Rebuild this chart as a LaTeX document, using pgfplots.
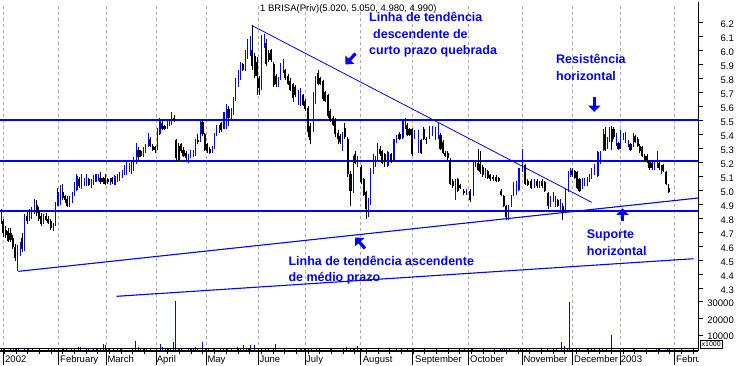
\documentclass[border=0pt]{standalone}
\usepackage{fontspec}
\setmainfont{Liberation Sans}
\usepackage{pgfplots}
\usepackage{pgfplotstable}
\pgfplotsset{compat=1.18}
\usetikzlibrary{arrows.meta}
\definecolor{mblue}{RGB}{0,0,255}
\definecolor{gridgray}{RGB}{170,170,170}

\pgfplotstableread{
x o h l c
1.0 4.78 4.87 4.76 4.86
3.4 4.78 4.80 4.67 4.70
5.7 4.72 4.75 4.66 4.68
8.1 4.71 4.73 4.63 4.64
10.5 4.70 4.73 4.63 4.65
12.9 4.66 4.68 4.58 4.60
15.2 4.60 4.62 4.50 4.52
17.6 4.50 4.61 4.43 4.58
20.0 4.55 4.63 4.53 4.62
22.3 4.66 4.70 4.56 4.58
24.7 4.58 4.83 4.57 4.80
27.1 4.82 4.85 4.76 4.78
29.4 4.79 4.87 4.78 4.86
31.8 4.82 4.88 4.80 4.87
34.2 4.84 4.94 4.83 4.89
36.6 4.90 4.93 4.82 4.84
38.9 4.86 4.88 4.78 4.80
41.3 4.82 4.84 4.75 4.76
43.7 4.78 4.83 4.76 4.82
46.0 4.82 4.84 4.78 4.79
48.4 4.80 4.82 4.76 4.77
50.8 4.78 4.80 4.72 4.73
53.1 4.72 4.77 4.71 4.75
55.5 4.76 4.92 4.75 4.90
57.9 4.90 5.02 4.89 4.98
60.3 4.92 5.04 4.90 5.00
62.6 4.99 5.05 4.93 4.95
65.0 4.96 4.97 4.91 4.93
67.4 4.94 4.96 4.88 4.89
69.7 4.90 4.96 4.88 4.95
72.1 4.92 4.99 4.91 4.98
74.5 4.97 5.06 4.96 5.05
76.8 5.01 5.12 5.00 5.10
79.2 5.08 5.10 5.02 5.03
81.6 5.02 5.12 5.01 5.07
84.0 5.04 5.09 5.03 5.08
86.3 5.04 5.12 5.03 5.10
88.7 5.08 5.09 5.03 5.04
91.1 5.03 5.08 5.02 5.07
93.4 5.05 5.11 5.04 5.10
95.8 5.07 5.12 5.06 5.11
98.2 5.08 5.12 5.07 5.11
100.5 5.09 5.13 5.05 5.06
102.9 5.09 5.10 5.05 5.06
105.3 5.09 5.12 5.04 5.05
107.7 5.08 5.09 5.05 5.06
110.0 5.05 5.09 5.04 5.08
112.4 5.09 5.10 5.05 5.06
114.8 5.05 5.11 5.04 5.10
117.1 5.07 5.12 5.06 5.11
119.5 5.08 5.13 5.07 5.12
121.9 5.10 5.15 5.09 5.14
124.2 5.12 5.18 5.11 5.16
126.6 5.12 5.22 5.11 5.20
129.0 5.14 5.20 5.13 5.19
131.4 5.14 5.21 5.12 5.20
133.7 5.15 5.24 5.14 5.22
136.1 5.20 5.34 5.19 5.27
138.5 5.29 5.31 5.22 5.24
140.8 5.28 5.29 5.24 5.25
143.2 5.25 5.31 5.24 5.30
145.6 5.28 5.33 5.27 5.32
147.9 5.32 5.41 5.31 5.40
150.3 5.37 5.38 5.31 5.32
152.7 5.32 5.33 5.28 5.29
155.1 5.31 5.32 5.27 5.29
157.4 5.30 5.45 5.29 5.42
159.8 5.41 5.52 5.40 5.50
162.2 5.48 5.50 5.43 5.44
164.5 5.46 5.47 5.43 5.44
166.9 5.45 5.50 5.44 5.49
169.3 5.47 5.51 5.46 5.50
171.6 5.49 5.56 5.47 5.53
174.0 5.52 5.54 5.49 5.50
176.4 5.36 5.37 5.21 5.23
178.8 5.32 5.34 5.21 5.22
181.1 5.33 5.34 5.27 5.28
183.5 5.29 5.31 5.24 5.25
185.9 5.27 5.28 5.22 5.23
188.2 5.21 5.26 5.20 5.25
190.6 5.24 5.29 5.23 5.28
193.0 5.25 5.29 5.24 5.28
195.3 5.26 5.37 5.25 5.34
197.7 5.36 5.40 5.33 5.35
200.1 5.36 5.50 5.35 5.49
202.5 5.49 5.51 5.39 5.40
204.8 5.40 5.41 5.28 5.29
207.2 5.33 5.34 5.27 5.28
209.6 5.30 5.31 5.26 5.27
211.9 5.28 5.32 5.27 5.31
214.3 5.31 5.41 5.30 5.40
216.7 5.40 5.47 5.39 5.46
219.0 5.42 5.47 5.41 5.46
221.4 5.48 5.49 5.42 5.43
223.8 5.45 5.56 5.44 5.55
226.2 5.48 5.62 5.44 5.60
228.5 5.58 5.60 5.46 5.52
230.9 5.52 5.59 5.50 5.58
233.3 5.55 5.67 5.54 5.66
235.6 5.65 5.80 5.64 5.78
238.0 5.75 5.86 5.74 5.85
240.4 5.80 5.92 5.79 5.90
242.7 5.90 5.91 5.85 5.86
245.1 5.86 6.00 5.85 5.98
247.5 5.95 6.08 5.94 6.06
249.9 5.98 6.10 5.96 6.08
252.2 6.00 6.18 5.86 5.89
254.6 5.96 5.98 5.80 5.82
257.0 5.92 5.95 5.68 5.82
259.3 5.80 5.82 5.68 5.73
261.7 5.75 6.11 5.72 6.06
264.1 6.04 6.12 6.02 6.10
266.4 6.05 6.08 5.89 5.90
268.8 5.98 6.00 5.92 5.93
271.2 6.00 6.01 5.92 5.93
273.6 5.90 5.92 5.74 5.75
275.9 5.82 5.83 5.74 5.76
278.3 5.75 5.81 5.74 5.80
280.7 5.80 5.91 5.79 5.89
283.0 5.85 5.94 5.84 5.90
285.4 5.86 5.87 5.79 5.80
287.9 5.82 5.83 5.75 5.76
290.4 5.78 5.80 5.71 5.72
292.9 5.76 5.77 5.63 5.66
295.4 5.74 5.75 5.67 5.68
297.9 5.62 5.72 5.61 5.71
300.4 5.63 5.73 5.60 5.70
302.9 5.68 5.69 5.60 5.61
305.4 5.64 5.65 5.57 5.58
307.9 5.59 5.60 5.38 5.42
310.4 5.46 5.48 5.33 5.36
312.9 5.45 5.70 5.42 5.68
315.4 5.65 5.82 5.62 5.80
317.9 5.84 5.86 5.75 5.76
320.4 5.80 5.81 5.75 5.76
322.9 5.78 5.79 5.64 5.65
325.4 5.70 5.71 5.63 5.64
327.9 5.68 5.69 5.52 5.53
330.4 5.57 5.58 5.49 5.50
332.9 5.52 5.53 5.46 5.47
335.4 5.50 5.52 5.38 5.40
337.9 5.41 5.43 5.33 5.37
340.0 5.39 5.40 5.33 5.35
342.3 5.31 5.42 5.28 5.40
344.8 5.45 5.48 5.37 5.38
347.8 5.37 5.38 5.10 5.12
350.5 5.12 5.14 4.89 5.00
353.0 5.00 5.25 4.98 5.22
355.3 5.26 5.28 5.19 5.20
357.5 5.19 5.25 5.17 5.24
361.3 5.17 5.18 5.05 5.06
363.7 5.08 5.09 4.96 4.97
366.0 4.99 5.00 4.80 4.87
368.3 4.88 4.95 4.81 4.94
370.7 4.92 5.16 4.90 5.14
373.0 5.13 5.26 5.12 5.24
375.3 5.18 5.25 5.17 5.24
377.6 5.23 5.34 5.22 5.32
380.0 5.30 5.32 5.25 5.26
382.3 5.28 5.29 5.19 5.20
384.6 5.26 5.27 5.17 5.21
387.8 5.18 5.28 5.17 5.27
391.0 5.26 5.27 5.20 5.21
393.8 5.22 5.37 5.21 5.36
396.2 5.35 5.40 5.34 5.39
399.5 5.40 5.42 5.36 5.37
402.8 5.38 5.51 5.37 5.49
405.0 5.45 5.52 5.44 5.50
407.3 5.47 5.48 5.39 5.40
409.5 5.44 5.45 5.39 5.40
412.0 5.44 5.45 5.25 5.26
414.6 5.38 5.43 5.37 5.42
418.0 5.28 5.43 5.27 5.42
421.0 5.36 5.37 5.26 5.27
423.8 5.44 5.45 5.36 5.37
426.2 5.37 5.38 5.33 5.36
429.5 5.38 5.46 5.37 5.45
432.5 5.40 5.46 5.39 5.45
435.3 5.37 5.45 5.36 5.44
438.0 5.38 5.48 5.37 5.46
440.5 5.40 5.41 5.29 5.30
442.9 5.35 5.36 5.26 5.27
445.3 5.27 5.28 5.24 5.25
447.7 5.27 5.28 5.22 5.23
450.3 5.22 5.23 5.04 5.05
452.8 5.07 5.08 5.02 5.03
455.2 5.00 5.08 4.93 5.07
457.7 5.08 5.09 4.99 5.00
460.1 5.04 5.05 5.01 5.02
463.6 5.00 5.01 4.97 4.98
466.6 4.98 5.01 4.97 5.00
470.3 5.00 5.01 4.92 4.93
473.0 4.97 5.22 4.96 5.20
475.3 5.18 5.22 5.17 5.21
478.0 5.20 5.30 5.14 5.15
480.3 5.19 5.28 5.12 5.13
482.8 5.17 5.18 5.10 5.11
485.5 5.10 5.16 5.09 5.15
487.8 5.14 5.15 5.08 5.09
490.3 5.11 5.12 5.07 5.08
493.3 5.10 5.11 5.07 5.08
496.0 5.10 5.11 5.06 5.07
498.8 5.09 5.10 5.06 5.07
501.2 5.00 5.01 4.96 4.97
503.6 4.96 4.97 4.88 4.89
506.2 4.89 4.90 4.79 4.81
508.6 4.81 4.90 4.79 4.89
511.2 4.89 4.97 4.88 4.96
513.6 4.97 5.06 4.96 5.05
516.3 4.98 5.07 4.97 5.06
518.8 5.01 5.16 5.00 5.15
522.2 5.14 5.30 5.13 5.20
525.0 5.18 5.19 5.04 5.05
527.8 5.07 5.08 5.03 5.04
531.2 5.07 5.08 5.01 5.02
534.5 5.03 5.08 5.02 5.07
537.0 5.07 5.08 5.02 5.03
539.7 5.03 5.07 5.02 5.06
542.3 5.07 5.08 5.02 5.03
544.6 5.06 5.07 4.99 5.00
548.0 4.98 4.99 4.87 4.89
550.5 4.89 4.96 4.88 4.95
553.0 4.93 4.99 4.92 4.98
555.5 4.89 4.96 4.88 4.95
557.8 4.93 4.94 4.88 4.89
560.3 4.87 4.94 4.86 4.93
562.8 4.89 4.91 4.79 4.85
565.5 4.85 5.01 4.84 5.00
568.0 5.00 5.14 4.99 5.13
570.2 5.11 5.16 5.10 5.15
572.4 5.15 5.16 5.10 5.11
574.6 5.14 5.15 5.08 5.09
577.0 5.13 5.14 5.01 5.02
579.5 5.08 5.09 4.99 5.00
582.0 5.02 5.09 5.01 5.08
584.6 5.04 5.09 5.03 5.08
587.1 5.04 5.10 5.03 5.09
589.5 5.07 5.12 5.06 5.11
591.7 5.09 5.16 5.08 5.15
593.9 5.12 5.19 5.11 5.18
597.8 5.11 5.28 5.10 5.27
600.0 5.20 5.28 5.19 5.27
603.0 5.29 5.44 5.28 5.39
605.3 5.40 5.45 5.28 5.29
607.5 5.31 5.38 5.30 5.37
609.6 5.36 5.45 5.35 5.43
611.6 5.44 5.46 5.29 5.35
613.6 5.44 5.45 5.37 5.38
616.2 5.33 5.41 5.32 5.40
618.5 5.34 5.35 5.29 5.30
620.6 5.31 5.43 5.30 5.40
623.0 5.37 5.41 5.36 5.40
625.5 5.35 5.42 5.34 5.41
628.0 5.32 5.36 5.31 5.35
630.5 5.33 5.34 5.28 5.29
632.9 5.32 5.41 5.31 5.40
635.3 5.39 5.40 5.34 5.35
637.6 5.37 5.38 5.31 5.32
639.8 5.32 5.33 5.27 5.28
642.0 5.31 5.32 5.24 5.25
644.6 5.25 5.26 5.21 5.22
647.2 5.25 5.26 5.20 5.21
649.5 5.21 5.22 5.15 5.16
652.0 5.20 5.21 5.15 5.16
654.5 5.16 5.22 5.15 5.21
657.0 5.17 5.28 5.16 5.21
659.0 5.20 5.21 5.15 5.16
661.2 5.13 5.18 5.12 5.17
663.3 5.18 5.19 5.13 5.14
666.0 5.13 5.14 5.04 5.05
668.7 5.02 5.05 4.98 4.99
}\candles

\pgfplotstableread{
x v
1.7 1960
10.7 1700
13.3 1900
15.7 1900
18.3 2000
25.0 2400
28.3 1400
32.7 2000
48.3 2000
55.0 2000
58.3 2400
63.3 1400
66.7 1400
71.7 2000
78.3 3000
80.0 3000
86.7 2000
88.3 2000
93.3 1400
96.7 1400
100.0 1400
103.3 4400
105.0 3800
108.3 1400
113.3 2000
117.3 2400
120.0 1400
123.3 1200
132.3 2400
135.0 6600
138.3 3000
140.7 1800
143.3 2000
146.7 1800
150.0 2000
156.7 2000
160.0 4800
162.3 3000
165.0 1400
168.3 1400
170.7 1400
173.3 6000
175.3 30600
178.3 1400
181.7 1400
188.3 1400
190.7 2000
193.3 2400
195.7 3000
197.7 2000
202.3 6000
205.0 2000
208.3 2000
213.3 1400
220.0 2400
223.3 1800
227.7 2000
231.7 2400
237.3 3000
240.0 1800
243.3 4200
246.0 2400
248.3 1800
250.7 3800
254.0 4200
261.7 1800
265.0 2400
268.3 1400
275.0 4800
300.0 1400
301.7 1400
304.0 1400
308.3 2400
311.7 1800
316.7 1400
330.0 1400
346.7 3000
350.0 2000
353.3 1400
357.3 3600
361.7 1400
396.0 1400
407.7 1400
464.3 1400
472.3 1400
500.0 1400
502.3 1800
504.3 2400
506.7 2400
509.0 1600
520.0 1400
522.7 1400
526.7 1400
547.3 1400
556.7 1400
561.3 6000
564.3 3600
567.3 2000
569.3 30000
572.3 1400
576.7 1400
579.3 1400
587.7 1400
591.7 2000
594.3 1400
599.3 1400
602.3 1400
606.0 2000
611.3 10000
633.3 1400
656.7 2000
659.0 1400
667.7 1400
}\vol

\begin{document}
\begin{tikzpicture}[x=1pt,y=1pt]

% ---------- price panel ----------
\begin{axis}[
  at={(0,10)}, anchor=south west, scale only axis,
  width=698pt, height=348pt,
  xmin=0, xmax=698, ymin=3.856, ymax=6.338,
  axis x line*=bottom, axis y line*=right,
  axis line style={-, black, line width=0.8pt},
  xtick=\empty,
  ytick={4.3,4.4,4.5,4.6,4.7,4.8,4.9,5.0,5.1,5.2,5.3,5.4,5.5,5.6,5.7,5.8,5.9,6.0,6.1,6.2},
  tick align=outside, major tick length=5pt,
  tick style={black, line width=0.8pt},
  yticklabel style={font=\fontsize{9.5}{10}\selectfont, anchor=east, inner sep=0pt,
     xshift=31pt, yshift=-1.5pt,
     /pgf/number format/.cd, fixed, fixed zerofill, precision=1, assume math mode=true},
]
% month grid lines
\pgfplotsinvokeforeach{3.3,58,106,156,206,258,305,360,412,468,522,572,620,674}{
  \addplot[gridgray, dash pattern=on 3pt off 3pt, line width=0.8pt, no markers, forget plot]
    coordinates {(#1,3.856) (#1,6.338)};
}
% horizontal support / resistance lines
\addplot[mblue, line width=1.8pt, no markers] coordinates {(0,5.5035) (698,5.5035)};
\addplot[mblue, line width=1.8pt, no markers] coordinates {(0,5.209) (698,5.209)};
\addplot[mblue, line width=1.8pt, no markers] coordinates {(0,4.8524) (698,4.8524)};
% trend lines
\addplot[mblue, line width=0.8pt, no markers] coordinates {(252.3,6.176) (591.7,4.916)};
\addplot[mblue, line width=1.1pt, no markers] coordinates {(18.3,4.424) (698,4.947)};
\addplot[mblue, line width=1.1pt, no markers] coordinates {(116.7,4.246) (693.3,4.514)};

% up candles: wicks
\addplot[draw=none, no markers, restrict expr to domain={\thisrow{c}-\thisrow{o}}{0:5},
  error bars/.cd, y dir=both, y explicit, error mark=none,
  error bar style={draw=mblue, line width=0.8pt}]
  table[x=x, y expr={(\thisrow{h}+\thisrow{l})/2}, y error expr={(\thisrow{h}-\thisrow{l})/2}] {\candles};
% down candles: wicks
\addplot[draw=none, no markers, restrict expr to domain={\thisrow{o}-\thisrow{c}}{0.0001:5},
  error bars/.cd, y dir=both, y explicit, error mark=none,
  error bar style={draw=black, line width=0.8pt}]
  table[x=x, y expr={(\thisrow{h}+\thisrow{l})/2}, y error expr={(\thisrow{h}-\thisrow{l})/2}] {\candles};
% up candles: hollow bodies
\addplot[draw=none, no markers, restrict expr to domain={\thisrow{c}-\thisrow{o}}{0:5},
  error bars/.cd, y dir=both, y explicit, error mark=-,
  error mark options={draw=mblue, mark size=1.05pt, line width=0.6pt},
  error bar style={draw=mblue, line width=0.6pt, double=white, double distance=0.9pt}]
  table[x=x, y expr={(\thisrow{o}+\thisrow{c})/2}, y error expr={(\thisrow{c}-\thisrow{o})/2}] {\candles};
% down candles: filled bodies
\addplot[draw=none, no markers, restrict expr to domain={\thisrow{o}-\thisrow{c}}{0.0001:5},
  error bars/.cd, y dir=both, y explicit, error mark=none,
  error bar style={draw=black, line width=2.1pt}]
  table[x=x, y expr={(\thisrow{o}+\thisrow{c})/2}, y error expr={(\thisrow{o}-\thisrow{c})/2}] {\candles};
\end{axis}

% ---------- volume panel ----------
\begin{axis}[
  at={(0,9)}, anchor=south west, scale only axis,
  width=698pt, height=348pt,
  xmin=0, xmax=698, ymin=1000, ymax=209800,
  axis x line*=bottom, axis y line*=right,
  axis line style={-, black, line width=0.8pt},
  xtick=\empty,
  ytick={10000,20000,30000},
  scaled y ticks=false,
  tick align=outside, major tick length=5pt,
  tick style={black, line width=0.8pt},
  yticklabel style={font=\fontsize{9.5}{10}\selectfont, anchor=east, inner sep=0pt,
     xshift=31pt, yshift=-1.5pt,
     /pgf/number format/.cd, fixed, 1000 sep={}, assume math mode=true},
]
\addplot[ycomb, mblue, line width=1pt, no markers] table[x=x, y=v] {\vol};
\end{axis}

% ---------- time axis ticks ----------
\foreach \x in {4.5,16.17,...,698} \draw[line width=0.8pt] (\x,17) -- (\x,11.3);
\foreach \x in {3.3,58,106,156,206,258,305,360,412,468,522,572,620,674} \draw[line width=0.8pt] (\x,17) -- (\x,0);
\draw[line width=0.8pt] (0,17) -- (698,17);

% ---------- texts ----------
\begin{scope}[every node/.style={inner sep=0pt, anchor=base west}]
\node[font=\fontsize{9.5}{10}\selectfont] at (260,353.3) {1 BRISA(Priv)(5.020, 5.050, 4.980, 4.990)};
\begin{scope}[font=\fontsize{12.5}{14}\selectfont\bfseries, text=mblue]
\node at (369,343.3) {Linha de tendência};
\node at (373,326.7) {descendente de};
\node at (369,310.2) {curto prazo quebrada};
\node at (556,301.7) {Resistência};
\node at (556,285.0) {horizontal};
\node at (586.7,126.7) {Suporte};
\node at (586.7,110.0) {horizontal};
\node at (288.3,99.8) {Linha de tendência ascendente};
\node at (288.3,83.5) {de médio prazo};
\end{scope}
\begin{scope}[font=\fontsize{9.5}{10}\selectfont]
\clip (0,0) rectangle (698,17);
\node at (5,2.5) {2002};
\node at (60,2.5) {February};
\node at (107.3,2.5) {March};
\node at (156.7,2.5) {April};
\node at (207.3,2.5) {May};
\node at (259.3,2.5) {June};
\node at (306,2.5) {July};
\node at (362.7,2.5) {August};
\node at (415,2.5) {September};
\node at (470,2.5) {October};
\node at (523.3,2.5) {November};
\node at (574,2.5) {December};
\node at (620.7,2.5) {2003};
\node at (676,2.5) {February};
\end{scope}
\end{scope}

% x1000 box
\draw[line width=0.6pt] (700,16.7) rectangle (722.3,25);
\node[font=\fontsize{7}{8}\selectfont, inner sep=0pt] at (711.2,20.9) {x1000};

% arrows
\begin{scope}[mblue, line width=3.2pt, -{Triangle[length=6.5pt, width=12pt]}]
\draw (594.3,268) -- (594.3,253);
\draw (622.5,144.3) -- (622.5,156.7);
\draw (355.5,311.5) -- (345.5,300.5);
\draw (365,116.5) -- (355.3,127.6);
\end{scope}

\pgfresetboundingbox
\path[use as bounding box] (0,0) rectangle (738,365);
\end{tikzpicture}
\end{document}
